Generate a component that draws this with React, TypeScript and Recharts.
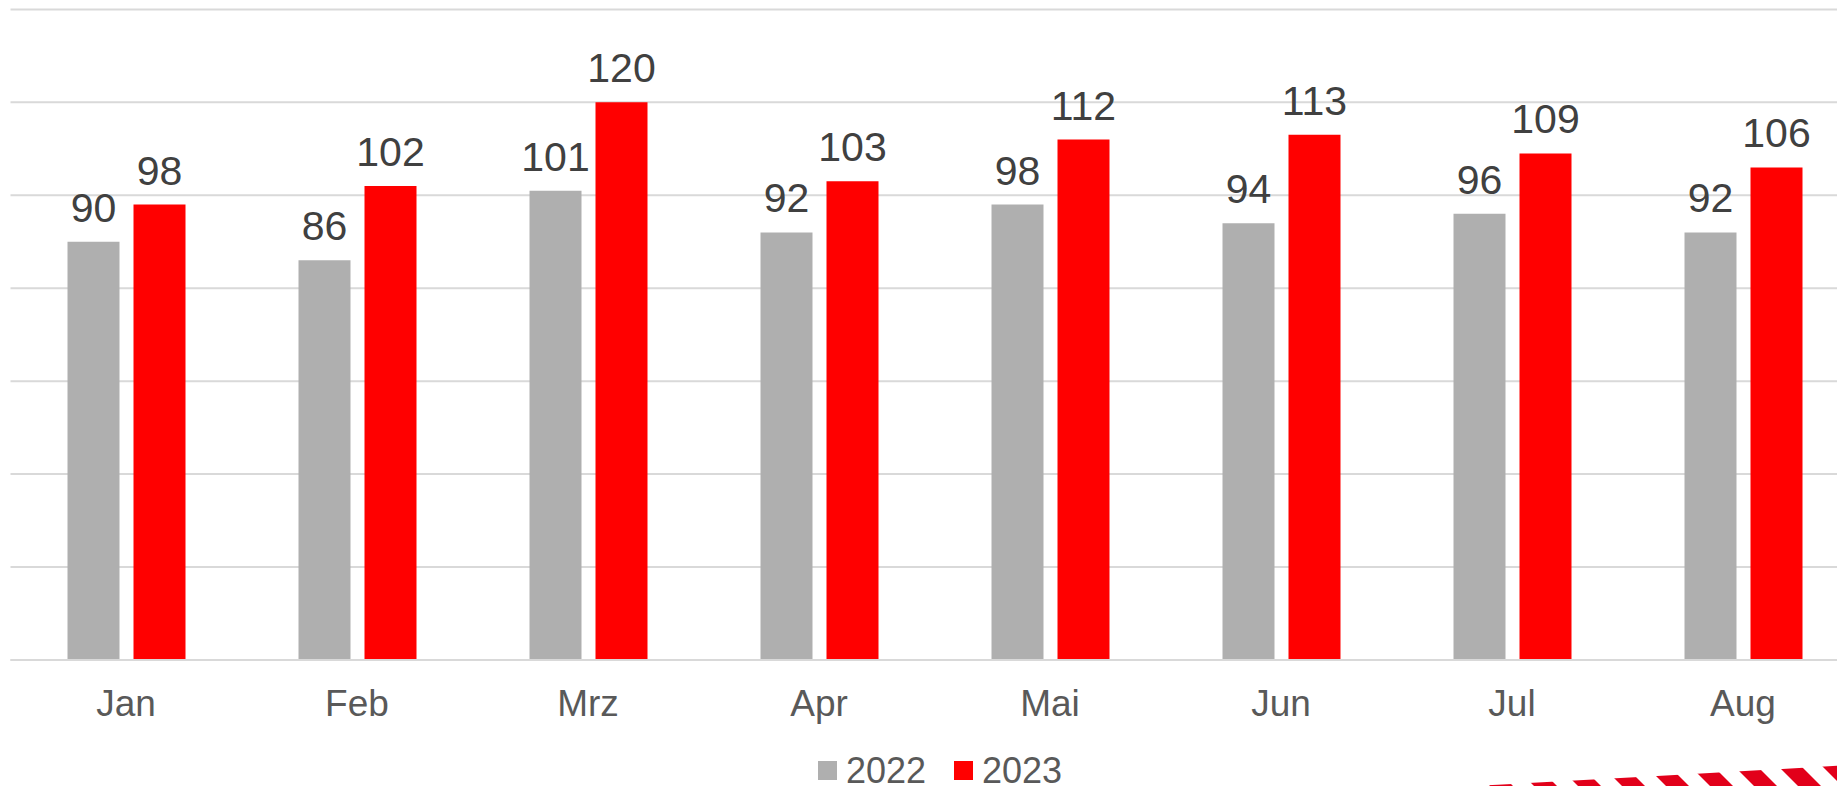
import { Bar, BarChart, CartesianGrid, LabelList, Legend, XAxis, YAxis } from "recharts";

const months = ["Jan", "Feb", "Mrz", "Apr", "Mai", "Jun", "Jul", "Aug"];
const values2022 = [90, 86, 101, 92, 98, 94, 96, 92];
const values2023 = [98, 102, 120, 103, 112, 113, 109, 106];
const yTicks = [0, 20, 40, 60, 80, 100, 120, 140];

const series = [
  { key: "y2022", label: "2022", color: "#afafaf" },
  { key: "y2023", label: "2023", color: "#ff0000" },
];

const data = months.map((m, i) => ({ month: m, y2022: values2022[i], y2023: values2023[i] }));

const FONT = '"Liberation Sans", Arial, sans-serif';

function LegendRow() {
  return (
    <div style={{ display: "flex", justifyContent: "center", alignItems: "center", paddingTop: 5.5, paddingLeft: 11 }}>
      {series.map((s, i) => (
        <div key={s.key} style={{ display: "flex", alignItems: "center", marginLeft: i === 0 ? 0 : 28 }}>
          <span style={{ width: 19, height: 19, background: s.color, display: "inline-block", marginRight: 9 }} />
          <span
            style={{
              display: "inline-block", fontSize: 36, lineHeight: "30px",
              color: "#595959", fontFamily: FONT,
            }}
          >
            {s.label}
          </span>
        </div>
      ))}
    </div>
  );
}

export default function App() {
  return (
    <div
      style={{
        position: "fixed", left: 0, top: 0, width: 1837, height: 786,
        overflow: "hidden", background: "#fff", fontFamily: FONT,
      }}
    >
      <BarChart
        width={1869}
        height={800}
        data={data}
        margin={{ top: 9.4, right: 10.5, left: 10.5, bottom: 0 }}
        barSize={52}
        barGap={14}
      >
        <CartesianGrid stroke="#d9d9d9" strokeWidth={2} vertical={false} />
        <XAxis
          dataKey="month"
          height={90}
          tickLine={false}
          axisLine={{ stroke: "#d9d9d9", strokeWidth: 2 }}
          tickMargin={24}
          tick={{ fill: "#595959", fontSize: 37, fontFamily: FONT }}
        />
        <YAxis hide domain={[0, 140]} ticks={yTicks} />
        <Legend verticalAlign="bottom" wrapperStyle={{ height: 50 }} content={() => <LegendRow />} />
        {series.map((s) => (
          <Bar key={s.key} dataKey={s.key} name={s.label} fill={s.color} isAnimationActive={false}>
            <LabelList
              dataKey={s.key}
              position="top"
              offset={20}
              fill="#404040"
              fontSize={41}
              fontFamily={FONT}
            />
          </Bar>
        ))}
      </BarChart>

      {/* striped tape decoration, bottom right */}
      <svg width={1837} height={786} style={{ position: "absolute", left: 0, top: 0, pointerEvents: "none" }}>
        <defs>
          <pattern id="tape" patternUnits="userSpaceOnUse" width={44} height={44} patternTransform="skewX(45)">
            <rect x={0} y={0} width={23} height={44} fill="#e2001a" />
          </pattern>
        </defs>
        <path d="M1460,786.5 Q1650,777 1840,765.5 L1840,800 L1460,800 Z" fill="url(#tape)" />
      </svg>
    </div>
  );
}
